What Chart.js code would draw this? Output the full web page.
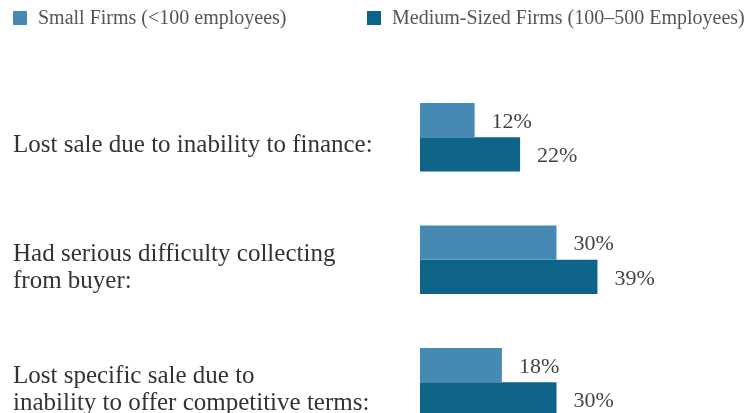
<!DOCTYPE html>
<html>
<head>
<meta charset="utf-8">
<script src="https://cdn.jsdelivr.net/npm/chart.js@4"></script>
<style>
  html, body { margin: 0; padding: 0; background: #fff; overflow: hidden; }
  #wrap { position: relative; width: 752px; height: 460px; }
  #legend { position: absolute; left: 0; top: 0; width: 752px; height: 40px; }
  .item { position: absolute; top: 6px; display: flex; align-items: center; white-space: nowrap;
          font-family: 'Liberation Serif', serif; font-size: 20px; color: #555; }
  .item span.box { display: inline-block; width: 14px; height: 14px; margin-right: 11px; }
</style>
</head>
<body>
<div id="wrap">
  <canvas id="myChart" width="752" height="460"></canvas>
  <div id="legend"></div>
</div>
<script>
const categories = [
  ['Lost sale due to inability to finance:'],
  ['Had serious difficulty collecting', 'from buyer:'],
  ['Lost specific sale due to', 'inability to offer competitive terms:']
];
const smallFirms = [12, 30, 18];
const mediumFirms = [22, 39, 30];
const seriesNames = ['Small Firms (<100 employees)', 'Medium-Sized Firms (100–500 Employees)'];
const seriesColors = ['#4689b2', '#0e6488'];

// value text to the right of each bar
const barValues = {
  id: 'barValues',
  afterDatasetsDraw(chart) {
    const c = chart.ctx;
    c.save();
    c.font = '22px "Liberation Serif", serif';
    c.fillStyle = '#444';
    c.textBaseline = 'middle';
    c.textAlign = 'left';
    chart.data.datasets.forEach((ds, i) => {
      chart.getDatasetMeta(i).data.forEach((bar, j) => {
        c.fillText(ds.data[j] + '%', bar.x + 17, bar.y + 2);
      });
    });
    c.restore();
  }
};

const ctx = document.getElementById('myChart');

const chart = new Chart(ctx, {
  type: 'bar',
  data: {
    labels: categories,
    datasets: [
      {
        label: seriesNames[0],
        data: smallFirms,
        backgroundColor: seriesColors[0],
        borderWidth: 0,
        barPercentage: 1,
        categoryPercentage: 0.56
      },
      {
        label: seriesNames[1],
        data: mediumFirms,
        backgroundColor: seriesColors[1],
        borderWidth: 0,
        barPercentage: 1,
        categoryPercentage: 0.56
      }
    ]
  },
  options: {
    indexAxis: 'y',
    responsive: false,
    animation: false,
    layout: { padding: { left: 13, right: 13.5, top: 76, bottom: 13 } },
    scales: {
      x: {
        display: false,
        min: 0,
        max: 70
      },
      y: {
        grid: { display: false },
        border: { display: false },
        afterFit: (scale) => { scale.width = 407; },
        ticks: {
          crossAlign: 'far',
          labelOffset: 8,
          color: '#333',
          font: { family: '"Liberation Serif", serif', size: 25, lineHeight: 1.08 }
        }
      }
    },
    plugins: {
      legend: { display: false },
      tooltip: { enabled: false }
    }
  },
  plugins: [barValues]
});

// legend drawn as html above the canvas
const legendLeft = [13, 367];
const legendEl = document.getElementById('legend');
chart.data.datasets.forEach((ds, i) => {
  const item = document.createElement('div');
  item.className = 'item';
  item.style.left = legendLeft[i] + 'px';
  const box = document.createElement('span');
  box.className = 'box';
  box.style.background = ds.backgroundColor;
  item.appendChild(box);
  item.appendChild(document.createTextNode(ds.label));
  legendEl.appendChild(item);
});
</script>
</body>
</html>
